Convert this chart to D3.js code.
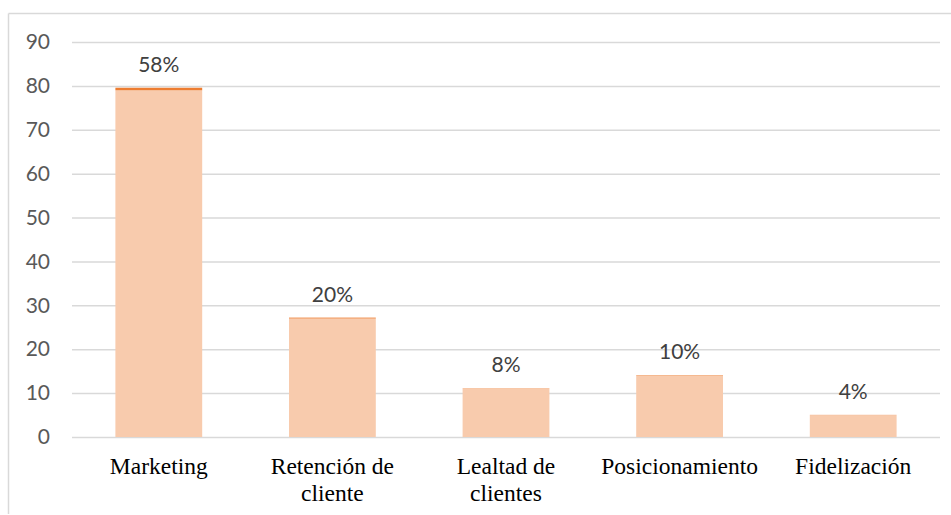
<!DOCTYPE html>
<html><head><meta charset="utf-8">
<script src="https://cdn.jsdelivr.net/npm/d3@7"></script>
<style>body{margin:0;background:#fff}svg{display:block}</style>
</head><body>
<svg id="chart" width="951" height="515"></svg>
<script>
const categories = [["Marketing"], ["Retención de", "cliente"], ["Lealtad de", "clientes"], ["Posicionamiento"], ["Fidelización"]];
const counts = [79, 27, 11, 14, 5];
const shares = [0.58, 0.20, 0.08, 0.10, 0.04];
const shareLabels = ["58%", "20%", "8%", "10%", "4%"];
const yTicks = [0, 10, 20, 30, 40, 50, 60, 70, 80, 90];

const svg = d3.select("#chart");
const keys = categories.map(c => c.join(" "));
const x = d3.scaleBand().domain(keys).range([72, 940]).paddingInner(0.5).paddingOuter(0.25);
const y = d3.scaleLinear().domain([0, 90]).range([437, 42]);

// frame
svg.append("line").attr("x1", 8.5).attr("x2", 951).attr("y1", 13.5).attr("y2", 13.5).attr("stroke", "#d9d9d9").attr("stroke-width", 1.5);
svg.append("line").attr("x1", 8.5).attr("x2", 8.5).attr("y1", 13.5).attr("y2", 514).attr("stroke", "#d9d9d9").attr("stroke-width", 1.5);

// gridlines + y axis labels
const yAxis = d3.axisLeft(y).tickValues(yTicks).tickSize(-(940 - 72)).tickPadding(22);
const gy = svg.append("g").attr("transform", "translate(72,0)").call(yAxis);
gy.select(".domain").remove();
gy.selectAll(".tick line").attr("stroke", "#d9d9d9").attr("stroke-width", 1.5);
gy.selectAll(".tick text").attr("fill", "#595959").style("font-family", "Lato, 'Open Sans', sans-serif").style("font-size", "21px");

// stacked bars
const rows = keys.map((k, i) => ({key: k, count: counts[i], share: shares[i]}));
const stack = d3.stack().keys(["count", "share"])(rows);
const colors = {count: "#F8CBAD", share: "#ED7D31"};
stack.forEach(layer => {
  svg.append("g").selectAll("rect").data(layer).join("rect")
    .attr("x", d => x(d.data.key))
    .attr("width", x.bandwidth())
    .attr("y", d => y(d[1]))
    .attr("height", d => y(d[0]) - y(d[1]))
    .attr("fill", colors[layer.key]);
});

// data labels
svg.append("g").selectAll("text").data(rows).join("text")
  .attr("x", d => x(d.key) + x.bandwidth() / 2)
  .attr("y", d => y(d.count + d.share) - 16)
  .attr("text-anchor", "middle")
  .attr("fill", "#404040")
  .style("font-family", "Lato, 'Open Sans', sans-serif").style("font-size", "21px")
  .text((d, i) => shareLabels[i]);

// category labels
const cg = svg.append("g").selectAll("text").data(categories).join("text")
  .attr("x", (d, i) => x(keys[i]) + x.bandwidth() / 2)
  .attr("y", 474)
  .attr("text-anchor", "middle")
  .attr("fill", "#000")
  .style("font-family", "'Liberation Serif', 'Times New Roman', serif").style("font-size", "23.5px");
cg.each(function(d) {
  const t = d3.select(this);
  const cx = t.attr("x");
  d.forEach((line, j) => t.append("tspan").attr("x", cx).attr("dy", j === 0 ? 0 : 27).text(line));
});
</script>
</body></html>
